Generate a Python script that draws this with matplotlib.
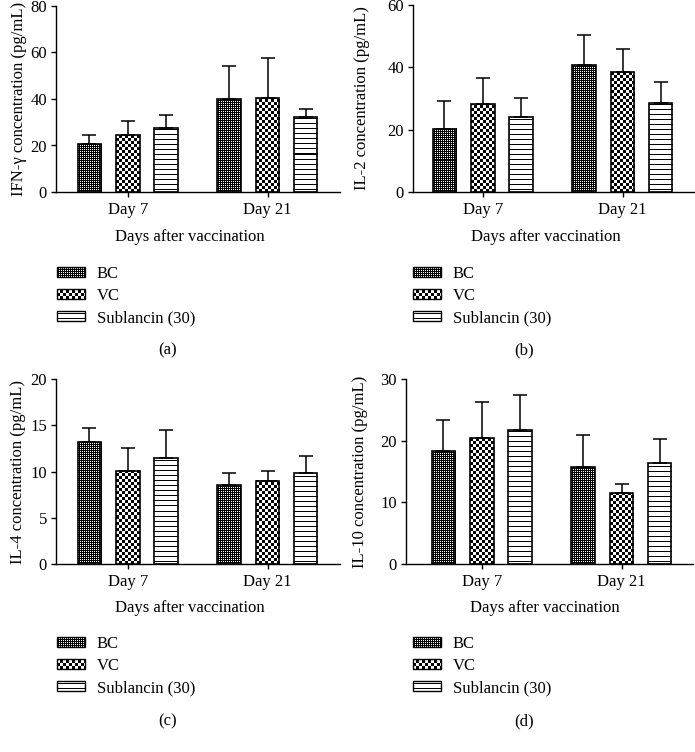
import numpy as np
import matplotlib
matplotlib.use("Agg")
import matplotlib.pyplot as plt
import matplotlib.transforms as mtransforms
from matplotlib.patches import Rectangle
from matplotlib.legend_handler import HandlerBase

plt.rcParams['font.family'] = ['Liberation Serif', 'DejaVu Serif']
plt.rcParams['font.size'] = 12
plt.rcParams['axes.linewidth'] = 1.0

# data (mean and upper SD)
days = ['Day 7', 'Day 21']
groups = ['BC', 'VC', 'Sublancin (30)']

ifn_mean = [[20.6, 39.9], [24.5, 40.3], [27.4, 32.4]]
ifn_sd = [[3.9, 14.3], [6.2, 17.3], [5.9, 3.4]]

il2_mean = [[20.3, 40.6], [28.2, 38.5], [24.0, 28.4]]
il2_sd = [[9.0, 9.8], [8.4, 7.4], [6.3, 7.0]]

il4_mean = [[13.15, 8.5], [10.07, 9.0], [11.5, 9.8]]
il4_sd = [[1.55, 1.35], [2.45, 1.1], [3.0, 1.85]]

il10_mean = [[18.3, 15.7], [20.4, 11.5], [21.7, 16.3]]
il10_sd = [[5.1, 5.2], [5.8, 1.5], [5.7, 3.9]]

W, H = 695, 752
DPI = 100
FS = 12


def texture(kind, nx, ny):
    j, i = np.indices((ny, nx))
    if kind == 0:      # fine dots
        white = (i % 2 == 0) & (j % 2 == 0)
    elif kind == 1:    # checkerboard
        white = ((i // 3) + (j // 3)) % 2 == 0
    else:              # horizontal lines
        white = (j % 5) != 2
    return white.astype(float)


class TextureHandler(HandlerBase):
    def __init__(self, kind):
        super().__init__()
        self.kind = kind

    def create_artists(self, legend, orig_handle, xdescent, ydescent,
                       width, height, fontsize, trans):
        px = 72.0 / legend.figure.dpi
        nx = int(round(width / px))
        ny = int(round(height / px))
        img = texture(self.kind, nx, ny)
        x0, y0 = -xdescent, -ydescent
        arts = [Rectangle((x0, y0), nx * px, ny * px, facecolor='black',
                          edgecolor='none', transform=trans)]
        for r in range(ny):
            row = img[r]
            c = 0
            while c < nx:
                if row[c] == 1:
                    s = c
                    while c < nx and row[c] == 1:
                        c += 1
                    arts.append(Rectangle((x0 + s * px, y0 + r * px), (c - s) * px, px,
                                          facecolor='white', edgecolor='none',
                                          antialiased=False, transform=trans))
                else:
                    c += 1
        arts.append(Rectangle((x0, y0), nx * px, ny * px, fill=False,
                              edgecolor='black', linewidth=1.0, transform=trans))
        return arts


fig = plt.figure(figsize=(W / DPI, H / DPI), dpi=DPI)

# panel layout in pixels: box (left, top, right, bottom), x of Day 7, ylabel x,
# xlabel (x, top), legend top-left, caption
panels = [
    (ifn_mean, ifn_sd, 80, 20, 'IFN-γ concentration (pg/mL)', (56, 6, 340, 192), 128, 27, (190, 229), (57, 266), (168, 350), '(a)'),
    (il2_mean, il2_sd, 60, 20, 'IL-2 concentration (pg/mL)', (413, 5, 694, 192), 483, 370, (546, 229), (413, 266), (524, 350), '(b)'),
    (il4_mean, il4_sd, 20, 5, 'IL-4 concentration (pg/mL)', (56, 379, 340, 564), 128, 26, (190, 600), (57, 636), (168, 721), '(c)'),
    (il10_mean, il10_sd, 30, 10, 'IL-10 concentration (pg/mL)', (406, 379, 693, 564), 482, 368, (545, 600), (413, 636), (524, 721), '(d)'),
]

ppu = 139.5
offsets = [-0.276, 0.0, 0.273]
bw = 0.17

for mean, sd, ymax, ystep, ylab, box, d7, labx, xlab, legpos, cappos, cap in panels:
    l, t, r, b = box
    ax = fig.add_axes([l / W, 1 - b / H, (r - l) / W, (b - t) / H])
    ax.set_xlim((l - d7) / ppu, (r - d7) / ppu)
    ax.set_ylim(0, ymax)
    x = np.arange(len(days))
    handles = []
    for k in range(3):
        xs = x + offsets[k]
        bars = ax.bar(xs, mean[k], bw, facecolor='none', edgecolor='black',
                      linewidth=1.2, zorder=3, label=groups[k])
        handles.append(bars)
        for rect in bars:
            bx0 = rect.get_x()
            bx1 = bx0 + rect.get_width()
            bh = rect.get_height()
            p0 = ax.transData.transform((bx0, 0))
            p1 = ax.transData.transform((bx1, bh))
            nx = max(1, int(round(p1[0] - p0[0])))
            ny = max(1, int(round(p1[1] - p0[1])))
            ax.imshow(texture(k, nx, ny), cmap='gray', vmin=0, vmax=1,
                      interpolation='nearest', origin='lower', aspect='auto',
                      extent=(bx0, bx1, 0, bh), zorder=2)
        ax.errorbar(xs, mean[k], yerr=[np.zeros(2), sd[k]], fmt='none',
                    ecolor='black', elinewidth=1.1, capsize=4.7, capthick=1.1, zorder=2.5)
    ax.set_xlim((l - d7) / ppu, (r - d7) / ppu)
    ax.set_ylim(0, ymax)
    ax.set_yticks(np.arange(0, ymax + 0.1, ystep))
    ax.set_xticks(x)
    ax.set_xticklabels(days)
    ax.spines['top'].set_visible(False)
    ax.spines['right'].set_visible(False)
    ax.tick_params(direction='out', length=3.6, width=1.0, pad=3, labelsize=FS)
    ax.tick_params(axis='x', pad=3.5)
    ax.set_xlabel('Days after vaccination', fontsize=FS)
    ax.set_ylabel(ylab, fontsize=FS)
    tr = mtransforms.blended_transform_factory(fig.transFigure, ax.transAxes)
    ax.yaxis.set_label_coords(labx / W, 0.5, transform=tr)
    ax.xaxis.set_label_coords(xlab[0] / W, 1 - xlab[1] / H, transform=fig.transFigure)

    ax.legend(handles=handles, labels=groups, loc='upper left',
              bbox_to_anchor=(legpos[0] / W, 1 - legpos[1] / H),
              bbox_transform=fig.transFigure, frameon=False,
              borderpad=0, borderaxespad=0, handlelength=1.68, handleheight=0.54,
              handletextpad=0.72, labelspacing=0.36, fontsize=FS,
              handler_map={handles[i]: TextureHandler(i) for i in range(3)})

    fig.text(cappos[0] / W, 1 - cappos[1] / H, cap, ha='center', va='center', fontsize=FS)

fig.savefig('out.png', dpi=DPI)
